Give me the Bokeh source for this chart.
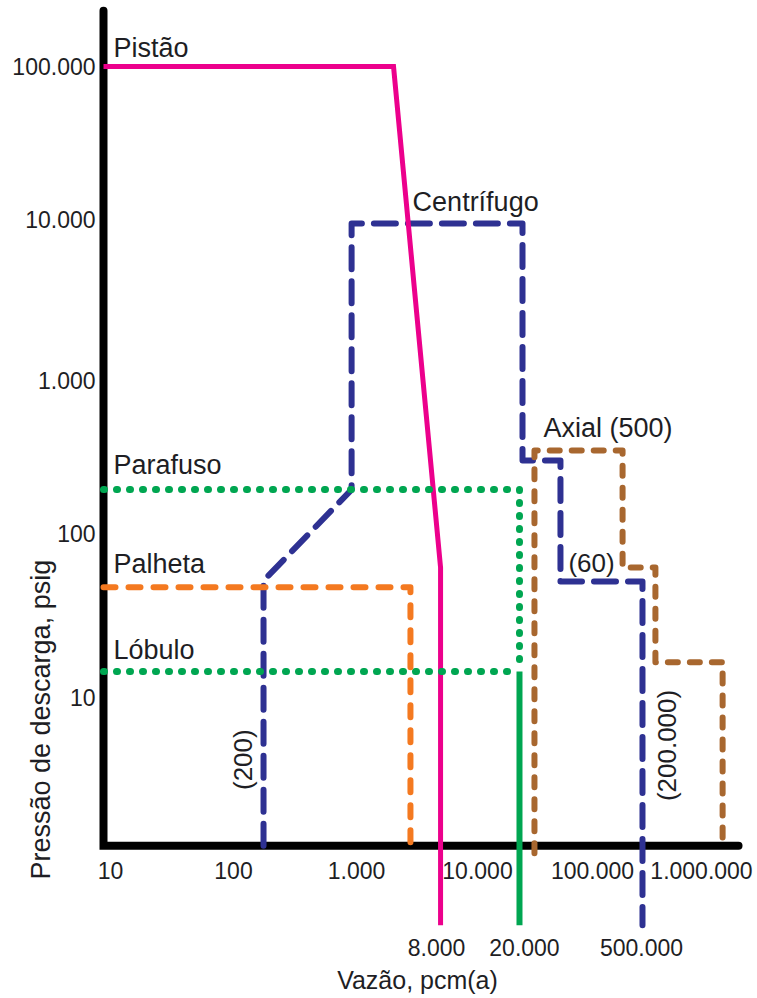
import numpy as np
from bokeh.plotting import figure
from bokeh.models import Range1d, ColumnDataSource
from bokeh.core.properties import value
from bokeh.embed import file_html
from bokeh.resources import INLINE

# ---------------- data ----------------
origin_x = 10
origin_y = 1.15
axis_top = 226000
axis_right = 1455000

pistao_x = [10, 2280, 5500, 5500]
pistao_y = [100000, 100000, 66.7, 0.36]

centrifugo_x = [200, 200, 1040, 1040, 25500, 25500, 51900, 51900, 241000, 241000]
centrifugo_y = [1.15, 55, 208, 10100, 10100, 318, 318, 54.4, 54.4, 0.36]

parafuso_x = [10, 24100, 24100]
parafuso_y = [208, 208, 14.6]

lobulo_x = [10, 24100]
lobulo_y = [14.6, 14.6]

limite_x = [24100, 24100]
limite_y = [14.6, 0.36]

palheta_x = [10, 3130, 3130]
palheta_y = [50, 50, 1.15]

axial_x = [31900, 31900, 166000, 166000, 307000, 307000, 1080000, 1080000]
axial_y = [1.03, 368, 368, 66.7, 66.7, 16.7, 16.7, 1.15]

x_ticks = [10, 100, 1000, 10000, 100000, 1000000]
x_tick_labels = ["10", "100", "1.000", "10.000", "100.000", "1.000.000"]
y_ticks = [100000, 10000, 1000, 100, 10]
y_tick_labels = ["100.000", "10.000", "1.000", "100", "10"]

limit_labels = ["8.000", "20.000", "500.000"]

# ---------------- styles ----------------
FONT = value("Liberation Sans")
TXT = "#1e1e24"
PINK = "#EC008C"
NAVY = "#2E3192"
GREEN = "#00A651"
ORANGE = "#F47920"
BROWN = "#A8672F"

W, H = 757, 998
p = figure(width=W, height=H, output_backend="svg", toolbar_location=None,
           x_axis_type="log", y_axis_type="log",
           x_axis_location=None, y_axis_location=None, title=None,
           x_range=Range1d(10 ** 0.16260, 10 ** 6.31707),
           y_range=Range1d(10 ** -0.90808, 10 ** 5.41838),
           min_border=0, outline_line_color=None)
p.grid.visible = False
p.background_fill_color = "white"
p.border_fill_color = "white"

# axes
p.line([origin_x, origin_x, axis_right], [axis_top, origin_y, origin_y],
       line_color="black", line_width=8, line_cap="round", line_join="miter")

# series
p.line(centrifugo_x, centrifugo_y, line_color=NAVY, line_width=6,
       line_dash="22 12", line_cap="round", line_join="round")
p.line(pistao_x, pistao_y, line_color=PINK, line_width=5, line_join="miter")
p.line(limite_x, limite_y, line_color=GREEN, line_width=6)
p.line(parafuso_x, parafuso_y, line_color=GREEN, line_width=7,
       line_dash="1 12", line_cap="round", line_join="round")
p.line(lobulo_x, lobulo_y, line_color=GREEN, line_width=7,
       line_dash="1 12", line_cap="round", line_join="round")
p.line(palheta_x, palheta_y, line_color=ORANGE, line_width=6,
       line_dash="12 13", line_cap="round", line_join="round")
p.line(axial_x, axial_y, line_color=BROWN, line_width=6,
       line_dash="10 12", line_cap="round", line_join="round")

# tick labels
xt = ColumnDataSource(dict(x=x_ticks, y=[origin_y] * len(x_ticks), t=x_tick_labels,
                           dx=[7, 7, 7, 5, -3, -17]))
p.text("x", "y", text="t", source=xt, x_offset="dx", y_offset=25,
       text_align="center", text_baseline="middle", text_font=FONT,
       text_font_size="23px", text_color=TXT)
yt = ColumnDataSource(dict(x=[origin_x] * len(y_ticks), y=y_ticks, t=y_tick_labels,
                           dy=[0, -5, -1, -6, 0]))
p.text("x", "y", text="t", source=yt, x_offset=-8, y_offset="dy",
       text_align="right", text_baseline="middle", text_font=FONT,
       text_font_size="23px", text_color=TXT)

# limit labels under the axis
lim = ColumnDataSource(dict(x=[pistao_x[-1], limite_x[-1], centrifugo_x[-1]],
                            y=[pistao_y[-1], limite_y[-1], centrifugo_y[-1]],
                            t=limit_labels, dx=[-4, 5, -1]))
p.text("x", "y", text="t", source=lim, x_offset="dx", y_offset=22,
       text_align="center", text_baseline="middle", text_font=FONT,
       text_font_size="23px", text_color=TXT)

def lab(txt, x, y, dx, dy, align="left", baseline="alphabetic", angle=0.0, size="27px"):
    p.text([x], [y], text=[txt], x_offset=dx, y_offset=dy, angle=angle,
           text_align=align, text_baseline=baseline, text_font=FONT,
           text_font_size=size, text_color=TXT)

lab("Pistão", pistao_x[0], pistao_y[0], 10, -18)
lab("Centrífugo", centrifugo_x[3], centrifugo_y[3], 61, -22)
lab("Axial (500)", axial_x[1], axial_y[1], 9, -22)
lab("Parafuso", parafuso_x[0], parafuso_y[0], 10, -25)
lab("Palheta", palheta_x[0], palheta_y[0], 10, -23)
lab("Lóbulo", lobulo_x[0], lobulo_y[0], 10, -22)
lab("(60)", centrifugo_x[7], centrifugo_y[7], 8, -18, size="26px")
lab("(200)", centrifugo_x[0], centrifugo_y[0], -21, -86, align="center",
    baseline="middle", angle=np.pi / 2, size="26px")
lab("(200.000)", centrifugo_x[8], centrifugo_y[8], 25, 164, align="center",
    baseline="middle", angle=np.pi / 2, size="26px")

# axis titles
lab("Vazão, pcm(a)", origin_x, origin_y, 314, 134, align="center", size="25px")
lab("Pressão de descarga, psig", origin_x, origin_y, -63, -126, align="center",
    baseline="middle", angle=np.pi / 2, size="27px")

open("out.html", "w").write(file_html(p, INLINE))
